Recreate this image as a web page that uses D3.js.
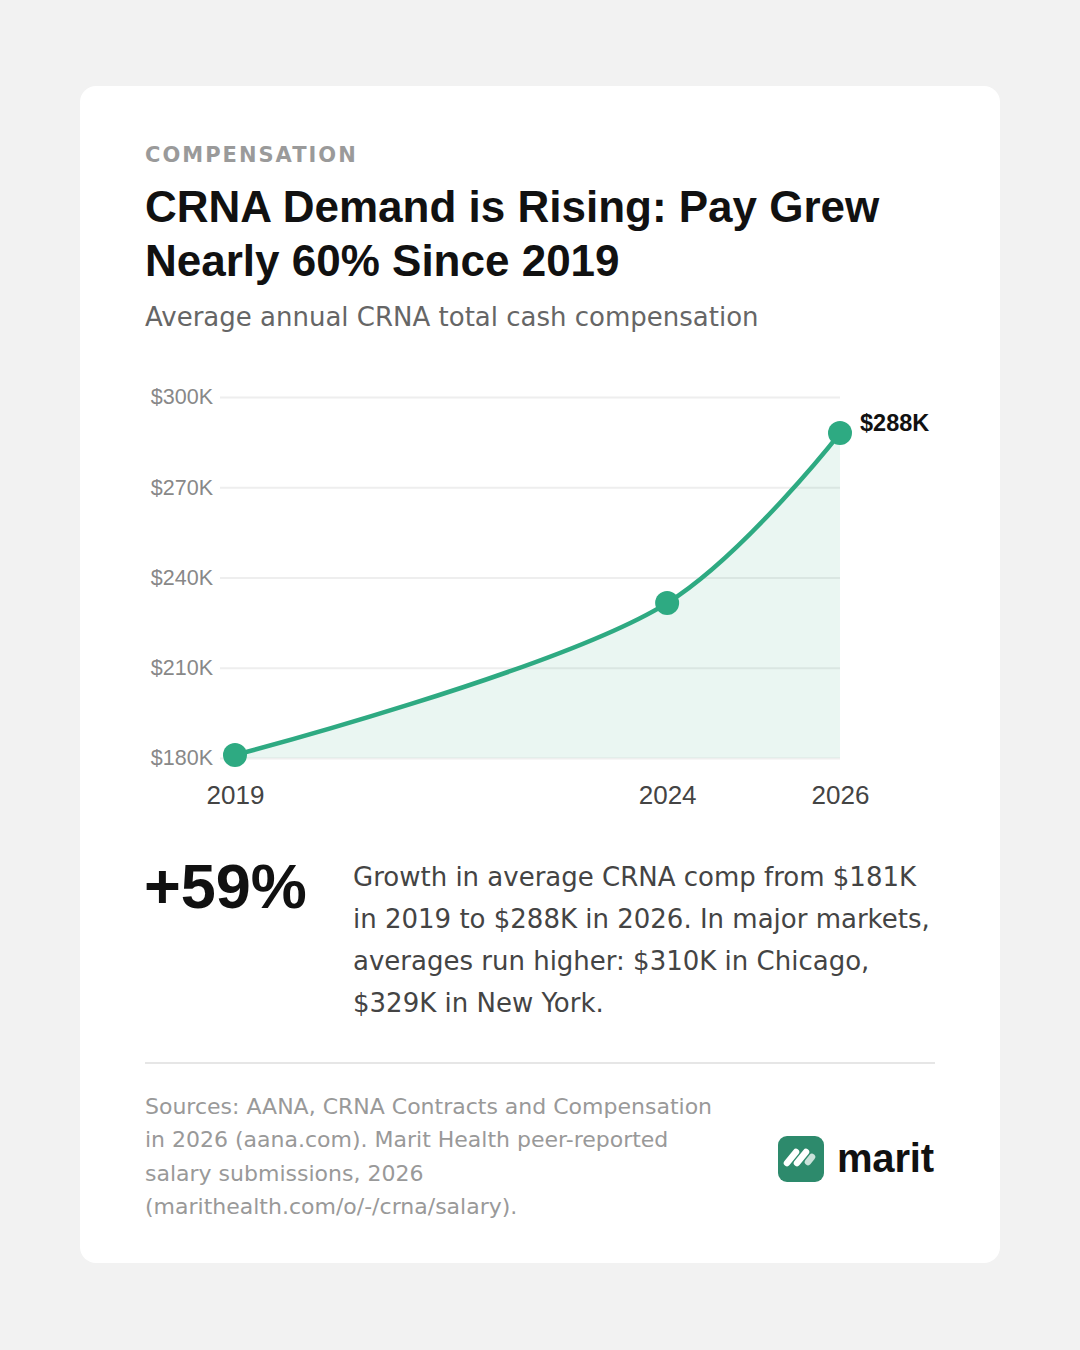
<!DOCTYPE html>
<html>
<head>
<meta charset="utf-8">
<script src="https://cdn.jsdelivr.net/npm/d3@7"></script>
<style>
  html, body { margin: 0; padding: 0; background: #f2f2f2; }
  svg { display: block; }
</style>
</head>
<body>
<svg id="chart" width="1080" height="1350"></svg>
<script>
// ---- data ----
const years = [2019, 2024, 2026];
const compK = [181, 231.5, 288];         // average annual CRNA total cash comp, $K
const yTicks = [180, 210, 240, 270, 300];
const xTicks = [2019, 2024, 2026];
const endLabel = "$288K";
const eyebrow = "COMPENSATION";
const titleLines = ["CRNA Demand is Rising: Pay Grew", "Nearly 60% Since 2019"];
const subtitle = "Average annual CRNA total cash compensation";
const bigStat = "+59%";
const descLines = [
  "Growth in average CRNA comp from $181K",
  "in 2019 to $288K in 2026. In major markets,",
  "averages run higher: $310K in Chicago,",
  "$329K in New York."
];
const sourceLines = [
  "Sources: AANA, CRNA Contracts and Compensation",
  "in 2026 (aana.com). Marit Health peer-reported",
  "salary submissions, 2026",
  "(marithealth.com/o/-/crna/salary)."
];

const data = years.map((yr, i) => ({ year: yr, value: compK[i] }));

const GREEN = "#2eaa82";
const svg = d3.select("#chart");

// background + card
svg.append("rect").attr("width", 1080).attr("height", 1350).attr("fill", "#f2f2f2");
svg.append("rect").attr("x", 80).attr("y", 86).attr("width", 920).attr("height", 1177)
  .attr("rx", 16).attr("fill", "#ffffff");

const DV = "'DejaVu Sans', sans-serif";
const LS = "'Liberation Sans', Arial, sans-serif";

// header
svg.append("text").attr("x", 145).attr("y", 162).text(eyebrow)
  .attr("font-family", DV).attr("font-weight", 700).attr("font-size", 21)
  .attr("letter-spacing", "2px").attr("fill", "#9a9a9a");

svg.append("g").selectAll("text").data(titleLines).join("text")
  .attr("x", 145).attr("y", (d, i) => 222 + i * 54).text(d => d)
  .attr("font-family", LS).attr("font-weight", 700).attr("font-size", 44).attr("fill", "#111");

svg.append("text").attr("x", 145).attr("y", 326).text(subtitle)
  .attr("font-family", DV).attr("font-size", 26).attr("fill", "#666");

// ---- chart ----
const x = d3.scaleLinear().domain([2019, 2026]).range([235, 840]);
const y = d3.scaleLinear().domain([180, 300]).range([758, 397]);

const yAxis = d3.axisLeft(y).tickValues(yTicks).tickSize(-620).tickPadding(7)
  .tickFormat(d => `$${d}K`);
const gy = svg.append("g").attr("transform", "translate(220,0)").call(yAxis);
gy.select(".domain").remove();
gy.selectAll(".tick line").attr("stroke", "#eeeeee").attr("stroke-width", 2);
gy.selectAll(".tick text").attr("font-family", LS).attr("font-size", 21.5).attr("fill", "#888");

const curve = d3.curveCatmullRom;
const area = d3.area().x(d => x(d.year)).y0(y(180)).y1(d => y(d.value)).curve(curve);
const line = d3.line().x(d => x(d.year)).y(d => y(d.value)).curve(curve);

svg.append("path").datum(data).attr("d", area).attr("fill", GREEN).attr("fill-opacity", 0.1);
svg.append("path").datum(data).attr("d", line).attr("fill", "none")
  .attr("stroke", GREEN).attr("stroke-width", 4.5).attr("stroke-linecap", "round");

svg.append("g").selectAll("circle").data(data).join("circle")
  .attr("cx", d => x(d.year)).attr("cy", d => y(d.value)).attr("r", 12).attr("fill", GREEN);

const last = data[data.length - 1];
svg.append("text").attr("x", x(last.year) + 20).attr("y", y(last.value) - 2).text(endLabel)
  .attr("font-family", LS).attr("font-weight", 700).attr("font-size", 23.5).attr("fill", "#111");

const xAxis = d3.axisBottom(x).tickValues(xTicks).tickSize(0).tickPadding(27.5)
  .tickFormat(d3.format("d"));
const gx = svg.append("g").attr("transform", `translate(0,${y(180)})`).call(xAxis);
gx.select(".domain").remove();
gx.selectAll(".tick text").attr("font-family", LS).attr("font-size", 26).attr("fill", "#444");

// ---- stat block ----
svg.append("text").attr("x", 144).attr("y", 908).text(bigStat)
  .attr("font-family", LS).attr("font-weight", 700).attr("font-size", 63)
  .attr("fill", "#111");

svg.append("g").selectAll("text").data(descLines).join("text")
  .attr("x", 353).attr("y", (d, i) => 886 + i * 42).text(d => d)
  .attr("font-family", DV).attr("font-size", 26).attr("fill", "#444");

// divider
svg.append("line").attr("x1", 145).attr("x2", 935).attr("y1", 1063).attr("y2", 1063)
  .attr("stroke", "#e6e6e6").attr("stroke-width", 2);

// sources
svg.append("g").selectAll("text").data(sourceLines).join("text")
  .attr("x", 145).attr("y", (d, i) => 1114 + i * 33.4).text(d => d)
  .attr("font-family", DV).attr("font-size", 22).attr("fill", "#999");

// logo
const logo = svg.append("g");
logo.append("rect").attr("x", 778).attr("y", 1136).attr("width", 46).attr("height", 46)
  .attr("rx", 9).attr("fill", "#2d8a6c");
const strokes = [
  { x1: 787, y1: 1163, x2: 796, y2: 1152, o: 1 },
  { x1: 797, y1: 1163, x2: 806, y2: 1152, o: 1 },
  { x1: 808, y1: 1162, x2: 812, y2: 1157, o: 0.75 }
];
logo.selectAll("line").data(strokes).join("line")
  .attr("x1", d => d.x1).attr("y1", d => d.y1).attr("x2", d => d.x2).attr("y2", d => d.y2)
  .attr("stroke", "#fff").attr("stroke-opacity", d => d.o)
  .attr("stroke-width", 6.5).attr("stroke-linecap", "round");
logo.append("text").attr("x", 837).attr("y", 1172).text("marit")
  .attr("font-family", LS).attr("font-weight", 700).attr("font-size", 40)
  .attr("letter-spacing", "-0.2px").attr("fill", "#111");
</script>
</body>
</html>
